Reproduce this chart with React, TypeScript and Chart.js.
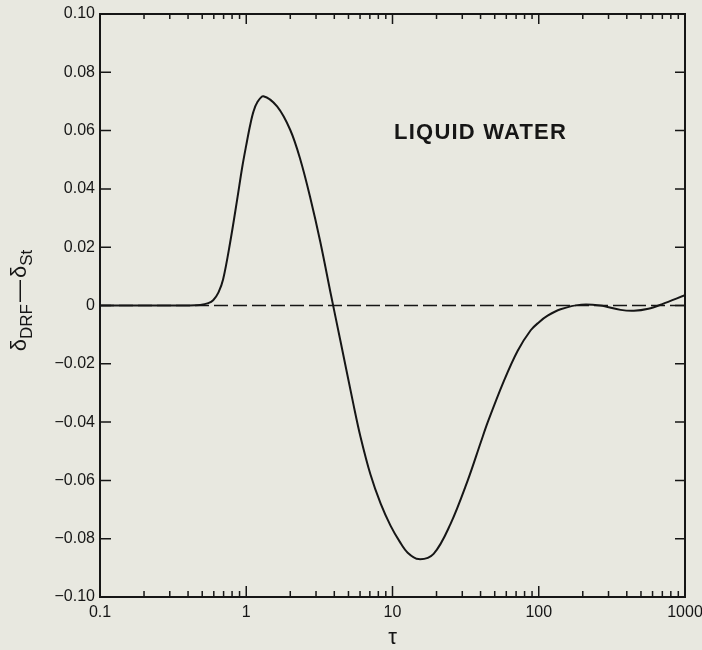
import React, { useEffect, useRef } from "react";
import { Chart, registerables } from "chart.js";

Chart.register(...registerables);

// ---- data ----
const TAU = [
  0.1, 0.2, 0.3, 0.4, 0.484, 0.55, 0.594, 0.646, 0.695, 0.776, 0.867, 0.939,
  1.0, 1.065, 1.12, 1.19, 1.31, 1.63, 2.0, 2.34, 2.74, 3.21,
  3.8, 4.4, 5.41, 6.04, 7.07, 8.3, 9.69, 11.2, 12.7, 15.1, 19.1, 24.9,
  32.7, 40.1, 44.8, 57.6, 71.8, 88.1, 100, 115, 141, 195, 263, 363, 447, 562,
  692, 1000,
];
const DIFF = [
  0, 0, 0, 0, 0.0002, 0.0008, 0.0018, 0.0045, 0.009, 0.0216, 0.0364, 0.0475,
  0.055, 0.062, 0.0665, 0.0697, 0.0718, 0.0682, 0.0602,
  0.0502, 0.037, 0.0218, 0.0035, -0.012, -0.034, -0.045, -0.058, -0.068,
  -0.0755, -0.081, -0.0848, -0.087, -0.0852, -0.075, -0.06, -0.047,
  -0.04, -0.026, -0.0155, -0.0085, -0.0058, -0.0035, -0.0013, 0.0003, 0.0,
  -0.0015, -0.0018, -0.0011, 0.0004, 0.0035,
];
const ZERO_TAU = [0.1, 1000];
const ZERO_LINE = [0, 0];

const X_MAJOR = [0.1, 1, 10, 100, 1000];
const X_MINOR_FACTORS = [2, 3, 4, 5, 6, 7, 8, 9];
const Y_TICKS = [-0.1, -0.08, -0.06, -0.04, -0.02, 0, 0.02, 0.04, 0.06, 0.08, 0.1];

const X_TITLE = "τ";
const Y_TITLE_MAIN = "δ";
const Y_TITLE_SUB1 = "DRF";
const Y_TITLE_DASH = "—";
const Y_TITLE_SUB2 = "St";
const ANNOTATION = "LIQUID WATER";
const ANNOTATION_TAU = 40;
const ANNOTATION_VALUE = 0.0593;

// ---- style ----
const BG = "#e8e8e0";
const INK = "#161616";
const FONT = "'Liberation Sans', Arial, sans-serif";

function fmtY(v: number): string {
  if (Math.abs(v) < 1e-9) return "0";
  const s = Math.abs(v).toFixed(2);
  return v < 0 ? "\u2212" + s : s;
}
function fmtX(v: number): string {
  if (v < 1) return "0.1";
  return String(Math.round(v));
}

const framePlugin = {
  id: "framePlugin",
  beforeDraw(chart: any) {
    const ctx = chart.ctx;
    ctx.save();
    ctx.fillStyle = BG;
    ctx.fillRect(0, 0, chart.width, chart.height);
    ctx.restore();
  },
  afterDraw(chart: any) {
    const { ctx, chartArea: a, scales } = chart;
    const xs = scales.x;
    const ys = scales.y;
    ctx.save();
    ctx.strokeStyle = INK;
    ctx.lineWidth = 2;
    ctx.strokeRect(a.left, a.top, a.right - a.left, a.bottom - a.top);

    ctx.lineWidth = 1.5;
    ctx.beginPath();
    X_MAJOR.forEach((d) => {
      const px = xs.getPixelForValue(d);
      ctx.moveTo(px, a.bottom);
      ctx.lineTo(px, a.bottom - 11);
      ctx.moveTo(px, a.top);
      ctx.lineTo(px, a.top + 10);
      if (d < 1000) {
        X_MINOR_FACTORS.forEach((f) => {
          const mx = xs.getPixelForValue(d * f);
          ctx.moveTo(mx, a.bottom);
          ctx.lineTo(mx, a.bottom - 6);
          ctx.moveTo(mx, a.top);
          ctx.lineTo(mx, a.top + 5);
        });
      }
    });
    Y_TICKS.forEach((v) => {
      const py = ys.getPixelForValue(v);
      ctx.moveTo(a.left, py);
      ctx.lineTo(a.left + 11, py);
      ctx.moveTo(a.right, py);
      ctx.lineTo(a.right - 10, py);
    });
    ctx.stroke();

    // annotation
    ctx.fillStyle = INK;
    ctx.font = `bold 22px ${FONT}`;
    (ctx as any).letterSpacing = "1.2px";
    ctx.textAlign = "center";
    ctx.textBaseline = "middle";
    ctx.fillText(
      ANNOTATION,
      xs.getPixelForValue(ANNOTATION_TAU),
      ys.getPixelForValue(ANNOTATION_VALUE)
    );
    (ctx as any).letterSpacing = "0px";

    // y title with subscripts
    const bigFont = `22px ${FONT}`;
    const subFont = `17px ${FONT}`;
    ctx.textAlign = "left";
    ctx.textBaseline = "alphabetic";
    ctx.font = bigFont;
    const wMain = ctx.measureText(Y_TITLE_MAIN).width;
    const wDash = ctx.measureText(Y_TITLE_DASH).width;
    ctx.font = subFont;
    const wS1 = ctx.measureText(Y_TITLE_SUB1).width;
    const wS2 = ctx.measureText(Y_TITLE_SUB2).width;
    const gap = 2;
    const total = wMain + wS1 + gap + wDash + gap + wMain + wS2;
    const cx = 26;
    const cy = (a.top + a.bottom) / 2 - 5;
    ctx.translate(cx, cy);
    ctx.rotate(-Math.PI / 2);
    let xPos = -total / 2;
    ctx.font = bigFont;
    ctx.fillText(Y_TITLE_MAIN, xPos, 0);
    xPos += wMain;
    ctx.font = subFont;
    ctx.fillText(Y_TITLE_SUB1, xPos, 6);
    xPos += wS1 + gap;
    ctx.font = bigFont;
    ctx.fillText(Y_TITLE_DASH, xPos, 0);
    xPos += wDash + gap;
    ctx.fillText(Y_TITLE_MAIN, xPos, 0);
    xPos += wMain;
    ctx.font = subFont;
    ctx.fillText(Y_TITLE_SUB2, xPos, 6);
    ctx.restore();
  },
};

export default function App() {
  const ref = useRef<HTMLCanvasElement | null>(null);
  useEffect(() => {
    if (!ref.current) return;
    const chart = new Chart(ref.current, {
      type: "line",
      data: {
        datasets: [
          {
            data: TAU.map((t, i) => ({ x: t, y: DIFF[i] })),
            borderColor: INK,
            borderWidth: 2,
            pointRadius: 0,
            tension: 0.35,
            fill: false,
            order: 0,
          },
          {
            data: ZERO_TAU.map((t, i) => ({ x: t, y: ZERO_LINE[i] })),
            borderColor: INK,
            borderWidth: 1.6,
            borderDash: [14, 5],
            pointRadius: 0,
            fill: false,
            order: 1,
          },
        ],
      },
      options: {
        responsive: false,
        animation: false,
        layout: { padding: { top: 14, right: 17, left: 0, bottom: 0 } },
        plugins: {
          legend: { display: false },
          tooltip: { enabled: false },
        },
        scales: {
          x: {
            type: "logarithmic",
            min: 0.1,
            max: 1000,
            afterBuildTicks: (s: any) => {
              s.ticks = X_MAJOR.map((v) => ({ value: v }));
            },
            afterFit: (s: any) => {
              s.height = 53;
              s.paddingLeft = 0;
              s.paddingRight = 0;
            },
            grid: { display: false, drawTicks: false },
            border: { display: false },
            ticks: {
              autoSkip: false,
              maxRotation: 0,
              padding: 6,
              color: INK,
              font: { family: FONT, size: 16 },
              callback: (v: any) => fmtX(Number(v)),
            },
            title: {
              display: true,
              text: X_TITLE,
              color: INK,
              font: { family: FONT, size: 22, lineHeight: 1 },
              padding: { top: 0, bottom: 1 },
            },
          },
          y: {
            type: "linear",
            min: -0.1,
            max: 0.1,
            afterBuildTicks: (s: any) => {
              s.ticks = Y_TICKS.map((v) => ({ value: v }));
            },
            afterFit: (s: any) => {
              s.width = 100;
              s.paddingTop = 0;
              s.paddingBottom = 0;
            },
            grid: { display: false, drawTicks: false },
            border: { display: false },
            ticks: {
              padding: 5,
              color: INK,
              font: { family: FONT, size: 16 },
              callback: (v: any) => fmtY(Number(v)),
            },
          },
        },
      },
      plugins: [framePlugin],
    } as any);
    return () => chart.destroy();
  }, []);
  return (
    <div style={{ position: "fixed", left: 0, top: 0, width: 702, height: 650, background: BG }}>
      <canvas ref={ref} width={702} height={650} />
    </div>
  );
}
